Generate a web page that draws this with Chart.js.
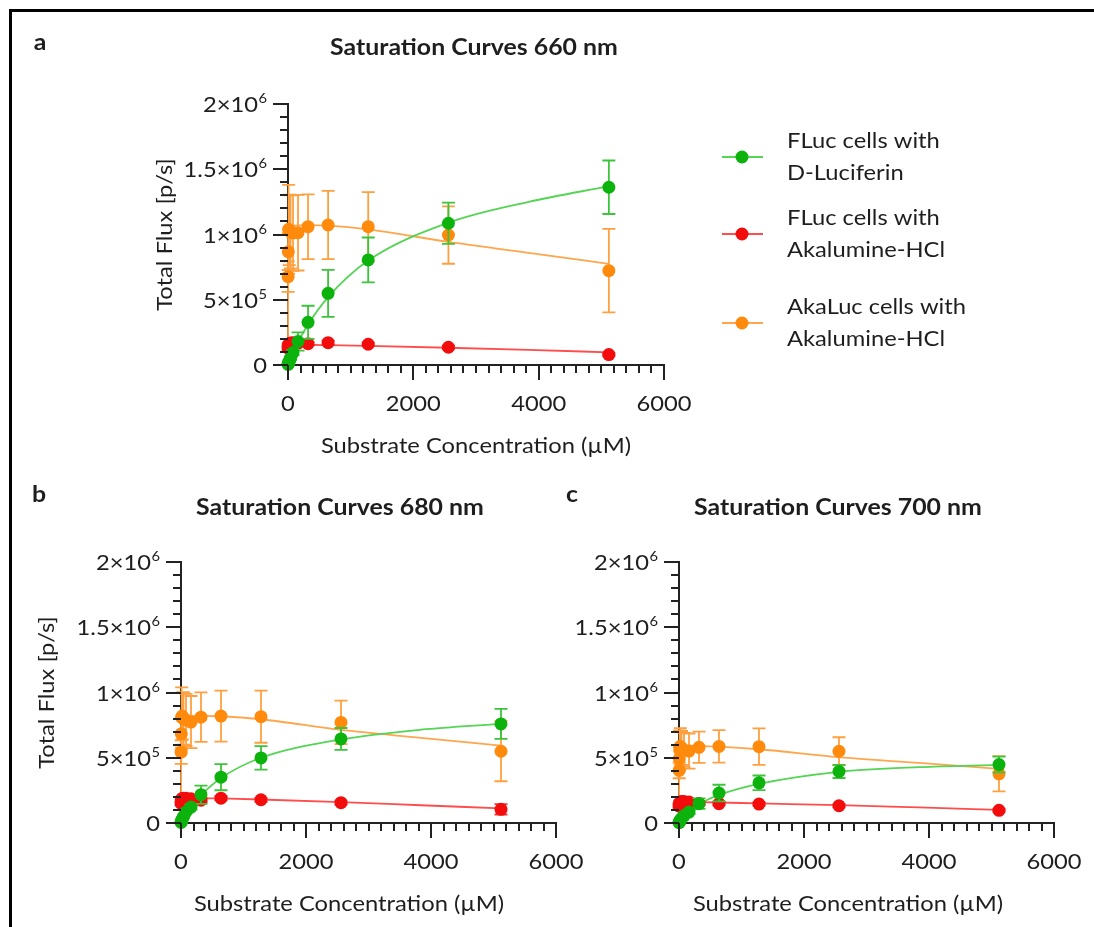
<!DOCTYPE html>
<html>
<head>
<meta charset="utf-8">
<script src="https://cdn.jsdelivr.net/npm/chart.js@4.4.1/dist/chart.umd.min.js"></script>
<style>
  html, body { margin: 0; padding: 0; background: #fff; }
  #stage { position: relative; width: 1094px; height: 927px; overflow: hidden; background: #fff; }
  #stage canvas { position: absolute; left: 0; top: 0; }
  #frame { position: absolute; left: 9px; top: 9px; width: 1200px; height: 1000px;
           border-left: 3px solid #000; border-top: 3px solid #000; }
</style>
</head>
<body>
<div id="stage">
  <div id="frame"></div>
  <canvas id="chart660" width="1094" height="927"></canvas>
  <canvas id="chart680" width="1094" height="927"></canvas>
  <canvas id="chart700" width="1094" height="927"></canvas>
</div>
<script>
// substrate concentrations (uM) of the measured points and of the fitted curves
const concentrations = [2.5, 5, 10, 20, 40, 80, 160, 320, 640, 1280, 2560, 5120];
const fitConcentrations = [0, 2.5, 5, 10, 20, 40, 80, 160, 320, 640, 1280, 2560, 3840, 5120];

const xTicks = [0, 2000, 4000, 6000];
const xTickLabels = ["0", "2000", "4000", "6000"];
const yTicks = [0, 500000, 1000000, 1500000, 2000000];
const yTickBase = ["0", "5×10", "1×10", "1.5×10", "2×10"];
const yTickExp = ["", "5", "6", "6", "6"];

const legendLabels = [
  ["FLuc cells with", "D-Luciferin"],
  ["FLuc cells with", "Akalumine-HCl"],
  ["AkaLuc cells with", "Akalumine-HCl"],
];

// 660 nm
const fluc660 = [5000, 9000, 17000, 30000, 52000, 95000, 180000, 327000, 549000, 805000, 1086000, 1362000];
const fluc660Err = [2000, 3000, 5000, 8000, 12000, 20000, 70000, 127000, 180000, 172000, 158000, 205000];
const fluc660Fit = [0, 4000, 8000, 15000, 29000, 55000, 98000, 175000, 310000, 520000, 800000, 1090000, 1250000, 1370000];
const flucAka660 = [130000, 145000, 155000, 162000, 168000, 170000, 168000, 163000, 171000, 159000, 136000, 80000];
const flucAka660Err = [15000, 15000, 15000, 15000, 15000, 15000, 15000, 12000, 15000, 12000, 12000, 10000];
const flucAka660Fit = [0, 100000, 130000, 148000, 155000, 157000, 157000, 156000, 155000, 152000, 146000, 132000, 116000, 97000];
const akaluc660 = [677000, 868000, 1040000, 1035000, 1020000, 1012000, 1014000, 1060000, 1073000, 1060000, 996000, 723000];
const akaluc660Err = [117000, 140000, 340000, 270000, 280000, 290000, 290000, 248000, 262000, 265000, 220000, 320000];
const akaluc660Fit = [0, 560000, 800000, 960000, 1030000, 1055000, 1065000, 1070000, 1072000, 1068000, 1040000, 943000, 860000, 775000];

// 680 nm
const fluc680 = [4000, 9000, 18000, 30000, 50000, 85000, 122000, 217000, 351000, 499000, 644000, 759000];
const fluc680Err = [2000, 3000, 4000, 6000, 8000, 12000, 20000, 70000, 100000, 90000, 84000, 115000];
const fluc680Fit = [0, 4000, 8000, 16000, 30000, 52000, 85000, 135000, 215000, 345000, 500000, 640000, 715000, 760000];
const flucAka680 = [150000, 165000, 180000, 188000, 190000, 190000, 185000, 175000, 190000, 178000, 156000, 105000];
const flucAka680Err = [15000, 15000, 15000, 15000, 15000, 15000, 15000, 15000, 15000, 15000, 15000, 40000];
const flucAka680Fit = [0, 120000, 160000, 180000, 188000, 190000, 191000, 191000, 190000, 188000, 180000, 160000, 136000, 112000];
const akaluc680 = [543000, 684000, 810000, 820000, 800000, 790000, 773000, 811000, 819000, 815000, 771000, 550000];
const akaluc680Err = [90000, 120000, 230000, 180000, 200000, 200000, 200000, 190000, 195000, 200000, 167000, 230000];
const akaluc680Fit = [0, 420000, 620000, 740000, 790000, 810000, 818000, 820000, 821000, 818000, 795000, 713000, 653000, 593000];

// 700 nm
const fluc700 = [3000, 6000, 12000, 20000, 35000, 55000, 84000, 148000, 229000, 308000, 395000, 448000];
const fluc700Err = [1500, 2000, 3000, 5000, 6000, 8000, 15000, 40000, 64000, 56000, 50000, 60000];
const fluc700Fit = [0, 3000, 6000, 12000, 22000, 38000, 60000, 95000, 145000, 215000, 300000, 392000, 428000, 445000];
const flucAka700 = [130000, 140000, 150000, 160000, 165000, 165000, 160000, 150000, 148000, 145000, 132000, 97000];
const flucAka700Err = [15000, 15000, 15000, 15000, 15000, 15000, 15000, 12000, 12000, 12000, 12000, 10000];
const flucAka700Fit = [0, 110000, 140000, 155000, 160000, 162000, 162000, 161000, 160000, 157000, 150000, 137000, 119000, 100000];
const akaluc700 = [403000, 492000, 560000, 587000, 575000, 560000, 551000, 580000, 587000, 585000, 550000, 377000];
const akaluc700Err = [60000, 90000, 150000, 140000, 130000, 130000, 135000, 120000, 125000, 140000, 107000, 135000];
const akaluc700Fit = [0, 300000, 450000, 540000, 575000, 588000, 592000, 592000, 590000, 585000, 565000, 504000, 460000, 415000];

const AXIS_COLOR = "#222222";
const TEXT_COLOR = "#1e1e1e";
const FONT_FAMILY = "Lato, 'Open Sans', sans-serif";
const TEXT_SX = 1.13;

const GREEN = { point: "#0cb30c", line: "#55d455", err: "#3cc43c" };
const RED = { point: "#f20c0c", line: "#ff4d4d", err: "#ff3434" };
const ORANGE = { point: "#ff8a0c", line: "#ffa64d", err: "#ffa040" };

function drawText(ctx, text, x, y, font, align, rotate) {
  ctx.save();
  ctx.font = font;
  ctx.fillStyle = TEXT_COLOR;
  ctx.textAlign = align;
  ctx.textBaseline = "alphabetic";
  ctx.translate(x, y);
  if (rotate) ctx.rotate(-Math.PI / 2);
  ctx.scale(TEXT_SX, 1);
  ctx.fillText(text, 0, 0);
  ctx.restore();
}

function textWidth(ctx, text, font) {
  ctx.save();
  ctx.font = font;
  const w = ctx.measureText(text).width * TEXT_SX;
  ctx.restore();
  return w;
}

const errorBars = {
  id: "errorBars",
  beforeDatasetDraw(chart, args) {
    const ds = chart.data.datasets[args.index];
    if (!ds.errors) return;
    const { ctx } = chart;
    const x = chart.scales.x;
    const y = chart.scales.y;
    ctx.save();
    ctx.strokeStyle = ds.errorColor;
    ctx.lineWidth = 1.8;
    ds.data.forEach((pt, i) => {
      const e = ds.errors[i];
      if (!e) return;
      const px = x.getPixelForValue(pt.x);
      const top = y.getPixelForValue(pt.y + e);
      const bot = y.getPixelForValue(Math.max(0, pt.y - e));
      ctx.beginPath();
      ctx.moveTo(px, top);
      ctx.lineTo(px, bot);
      ctx.moveTo(px - 6.5, top);
      ctx.lineTo(px + 6.5, top);
      ctx.moveTo(px - 6.5, bot);
      ctx.lineTo(px + 6.5, bot);
      ctx.stroke();
    });
    ctx.restore();
  },
};

const prismAxes = {
  id: "prismAxes",
  afterDraw(chart, args, opts) {
    const { ctx } = chart;
    const x = chart.scales.x;
    const y = chart.scales.y;
    const x0 = Math.round(x.getPixelForValue(0));
    const yb = Math.round(y.getPixelForValue(0));
    const tickFont = `21px ${FONT_FAMILY}`;
    const supFont = `13px ${FONT_FAMILY}`;
    const boldFont = `bold 22px ${FONT_FAMILY}`;

    ctx.save();
    ctx.strokeStyle = AXIS_COLOR;
    ctx.lineWidth = 2;
    ctx.beginPath();
    for (let v = 0; v <= 6000; v += 200) {
      const px = Math.round(x.getPixelForValue(v));
      const len = xTicks.includes(v) ? 15 : 8;
      ctx.moveTo(px, yb);
      ctx.lineTo(px, yb + len);
    }
    for (let v = 0; v <= 2000000; v += 100000) {
      const py = Math.round(y.getPixelForValue(v));
      const len = yTicks.includes(v) ? 15 : 8;
      ctx.moveTo(x0, py);
      ctx.lineTo(x0 - len, py);
    }
    ctx.stroke();
    ctx.restore();

    xTicks.forEach((v, i) => {
      drawText(ctx, xTickLabels[i], x.getPixelForValue(v), yb + 46, tickFont, "center");
    });

    yTicks.forEach((v, i) => {
      const py = y.getPixelForValue(v);
      const right = x0 - 21;
      const supW = yTickExp[i] ? textWidth(ctx, yTickExp[i], supFont) : 0;
      if (yTickExp[i]) drawText(ctx, yTickExp[i], right, py - 1, supFont, "right");
      drawText(ctx, yTickBase[i], right - supW - (supW ? 0.5 : 0), py + 8, tickFont, "right");
    });

    drawText(ctx, "Substrate Concentration (\u00B5M)", opts.xTitleX, yb + 88, tickFont, "center");
    if (opts.yTitleX) {
      const midY = (chart.chartArea.top + chart.chartArea.bottom) / 2;
      drawText(ctx, "Total Flux [p/s]", opts.yTitleX + 7.5, midY, tickFont, "center", true);
    }
    drawText(ctx, opts.title, opts.titleX, opts.titleY, boldFont, "center");
    drawText(ctx, opts.letter, opts.letterX, opts.letterY, boldFont, "center");

    if (opts.legend) {
      const styles = [GREEN, RED, ORANGE];
      opts.legendY.forEach((ly, i) => {
        const st = styles[i];
        ctx.save();
        ctx.strokeStyle = st.line;
        ctx.lineWidth = 2;
        ctx.beginPath();
        ctx.moveTo(opts.legendX - 20, ly);
        ctx.lineTo(opts.legendX + 21, ly);
        ctx.stroke();
        ctx.fillStyle = st.point;
        ctx.beginPath();
        ctx.arc(opts.legendX, ly, 6.5, 0, Math.PI * 2);
        ctx.fill();
        ctx.restore();
        drawText(ctx, legendLabels[i][0], opts.legendX + 45, ly - 9, tickFont, "left");
        drawText(ctx, legendLabels[i][1], opts.legendX + 45, ly + 23, tickFont, "left");
      });
    }
  },
};

function pointSet(values, errors, style, order) {
  return {
    type: "scatter",
    data: concentrations.map((c, i) => ({ x: c, y: values[i] })),
    errors: errors,
    errorColor: style.err,
    backgroundColor: style.point,
    borderColor: style.point,
    borderWidth: 0,
    pointRadius: 6.5,
    showLine: false,
    clip: false,
    order: order,
  };
}

function fitSet(values, style, order) {
  return {
    type: "line",
    data: fitConcentrations.map((c, i) => ({ x: c, y: values[i] })),
    borderColor: style.line,
    borderWidth: 1.8,
    pointRadius: 0,
    cubicInterpolationMode: "monotone",
    fill: false,
    clip: false,
    order: order,
  };
}

function makeChart(canvasId, series, padding, decor) {
  return new Chart(document.getElementById(canvasId), {
    type: "scatter",
    data: {
      datasets: [
        pointSet(series.fluc, series.flucErr, GREEN, 0),
        pointSet(series.flucAka, series.flucAkaErr, RED, 1),
        pointSet(series.akaluc, series.akalucErr, ORANGE, 2),
        fitSet(series.flucFit, GREEN, 3),
        fitSet(series.flucAkaFit, RED, 4),
        fitSet(series.akalucFit, ORANGE, 5),
      ],
    },
    options: {
      responsive: false,
      animation: false,
      devicePixelRatio: 1,
      events: [],
      layout: { padding: padding },
      scales: {
        x: {
          type: "linear",
          min: 0,
          max: 6000,
          grid: { display: false },
          ticks: { display: false },
          border: { display: true, color: AXIS_COLOR, width: 2 },
          afterFit: (s) => { s.height = 0; },
        },
        y: {
          type: "linear",
          min: 0,
          max: 2000000,
          grid: { display: false },
          ticks: { display: false },
          border: { display: true, color: AXIS_COLOR, width: 2 },
          afterFit: (s) => { s.width = 0; },
        },
      },
      plugins: {
        legend: { display: false },
        tooltip: { enabled: false },
        prismAxes: decor,
      },
    },
    plugins: [errorBars, prismAxes],
  });
}

makeChart(
  "chart660",
  { fluc: fluc660, flucErr: fluc660Err, flucFit: fluc660Fit,
    flucAka: flucAka660, flucAkaErr: flucAka660Err, flucAkaFit: flucAka660Fit,
    akaluc: akaluc660, akalucErr: akaluc660Err, akalucFit: akaluc660Fit },
  { left: 288, right: 430, top: 104, bottom: 562 },
  { title: "Saturation Curves 660 nm", titleX: 474, titleY: 55, letter: "a", letterX: 40, letterY: 50,
    xTitleX: 476, yTitleX: 164, legend: true, legendX: 742, legendY: [157, 234, 323] }
);

makeChart(
  "chart680",
  { fluc: fluc680, flucErr: fluc680Err, flucFit: fluc680Fit,
    flucAka: flucAka680, flucAkaErr: flucAka680Err, flucAkaFit: flucAka680Fit,
    akaluc: akaluc680, akalucErr: akaluc680Err, akalucFit: akaluc680Fit },
  { left: 181, right: 538, top: 562, bottom: 104 },
  { title: "Saturation Curves 680 nm", titleX: 340, titleY: 515, letter: "b", letterX: 39, letterY: 502,
    xTitleX: 349, yTitleX: 46, legend: false }
);

makeChart(
  "chart700",
  { fluc: fluc700, flucErr: fluc700Err, flucFit: fluc700Fit,
    flucAka: flucAka700, flucAkaErr: flucAka700Err, flucAkaFit: flucAka700Fit,
    akaluc: akaluc700, akalucErr: akaluc700Err, akalucFit: akaluc700Fit },
  { left: 679, right: 40, top: 562, bottom: 104 },
  { title: "Saturation Curves 700 nm", titleX: 838, titleY: 515, letter: "c", letterX: 572, letterY: 502,
    xTitleX: 848, yTitleX: null, legend: false }
);
</script>
</body>
</html>
